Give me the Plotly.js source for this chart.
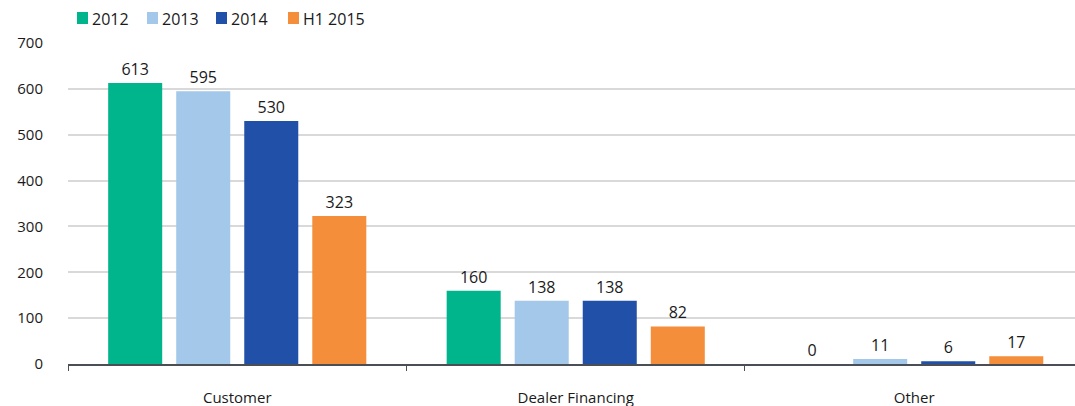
<!DOCTYPE html>
<html>
<head>
<meta charset="utf-8">
<script src="https://cdn.plot.ly/plotly-3.0.1.min.js"></script>
<style>html,body{margin:0;padding:0;background:#fff;}#chart{width:1075px;height:406px;}</style>
</head>
<body>
<div id="chart"></div>
<script>
const categories = ["Customer", "Dealer Financing", "Other"];
const seriesNames = ["2012", "2013", "2014", "H1 2015"];
const values2012 = [613, 160, 0];
const values2013 = [595, 138, 11];
const values2014 = [530, 138, 6];
const valuesH12015 = [323, 82, 17];
const colors = ["#00B48C", "#A3C8EA", "#2150A8", "#F48E3B"];
const yTicks = [0, 100, 200, 300, 400, 500, 600, 700];

const FONT = "Open Sans, Noto Sans, sans-serif";
const allValues = [values2012, values2013, values2014, valuesH12015];
const traces = allValues.map((vals, i) => ({
  type: "bar",
  name: seriesNames[i],
  x: categories,
  y: vals,
  marker: {color: colors[i]},
  text: vals.map(v => String(v)),
  textposition: "outside",
  textfont: {family: FONT, size: 16, color: "#1a1a1a"},
  cliponaxis: false,
  showlegend: false,
  hoverinfo: "x+y+name"
}));

// custom legend (pixel layout -> paper coords)
const plotL = 68, plotW = 1007, plotT = 43, plotH = 321;
const px2x = p => (p - plotL) / plotW;
const py2y = p => (plotT + plotH - p) / plotH;
const legendStarts = [77, 147, 216, 288];
const shapes = [];
const annotations = [];
seriesNames.forEach((name, i) => {
  const x0 = legendStarts[i];
  shapes.push({
    type: "rect", xref: "paper", yref: "paper",
    x0: px2x(x0), x1: px2x(x0 + 11), y0: py2y(24), y1: py2y(12),
    fillcolor: colors[i], line: {width: 0}
  });
  annotations.push({
    xref: "paper", yref: "paper",
    x: px2x(x0 + 13), y: py2y(18.5),
    xanchor: "left", yanchor: "middle",
    text: name, showarrow: false,
    font: {family: FONT, size: 16, color: "#1a1a1a"}
  });
});

const layout = {
  width: 1075,
  height: 406,
  margin: {l: 68, r: 0, t: 43, b: 42},
  paper_bgcolor: "#ffffff",
  plot_bgcolor: "#ffffff",
  font: {family: FONT, size: 15, color: "#1a1a1a"},
  barmode: "group",
  bargap: 0.196,
  bargroupgap: 0.206,
  showlegend: false,
  shapes: shapes,
  annotations: annotations,
  xaxis: {
    type: "category",
    range: [-0.5, 2.475],
    showgrid: false,
    showline: true,
    linecolor: "#4a4f55",
    linewidth: 2,
    ticks: "outside",
    tickson: "boundaries",
    ticklen: 5,
    tickcolor: "#4a4f55",
    tickwidth: 1,
    ticklabelstandoff: 19,
    tickfont: {size: 15, color: "#1a1a1a"},
    fixedrange: true
  },
  yaxis: {
    range: [0, 700],
    tickvals: yTicks,
    ticktext: yTicks.map(String),
    showgrid: true,
    gridcolor: "#d9d9d9",
    gridwidth: 2,
    zeroline: false,
    showline: false,
    ticks: "",
    ticklabelstandoff: 24,
    tickfont: {size: 15, color: "#1a1a1a"},
    fixedrange: true
  }
};

Plotly.newPlot("chart", traces, layout, {displayModeBar: false, staticPlot: true});
</script>
</body>
</html>
